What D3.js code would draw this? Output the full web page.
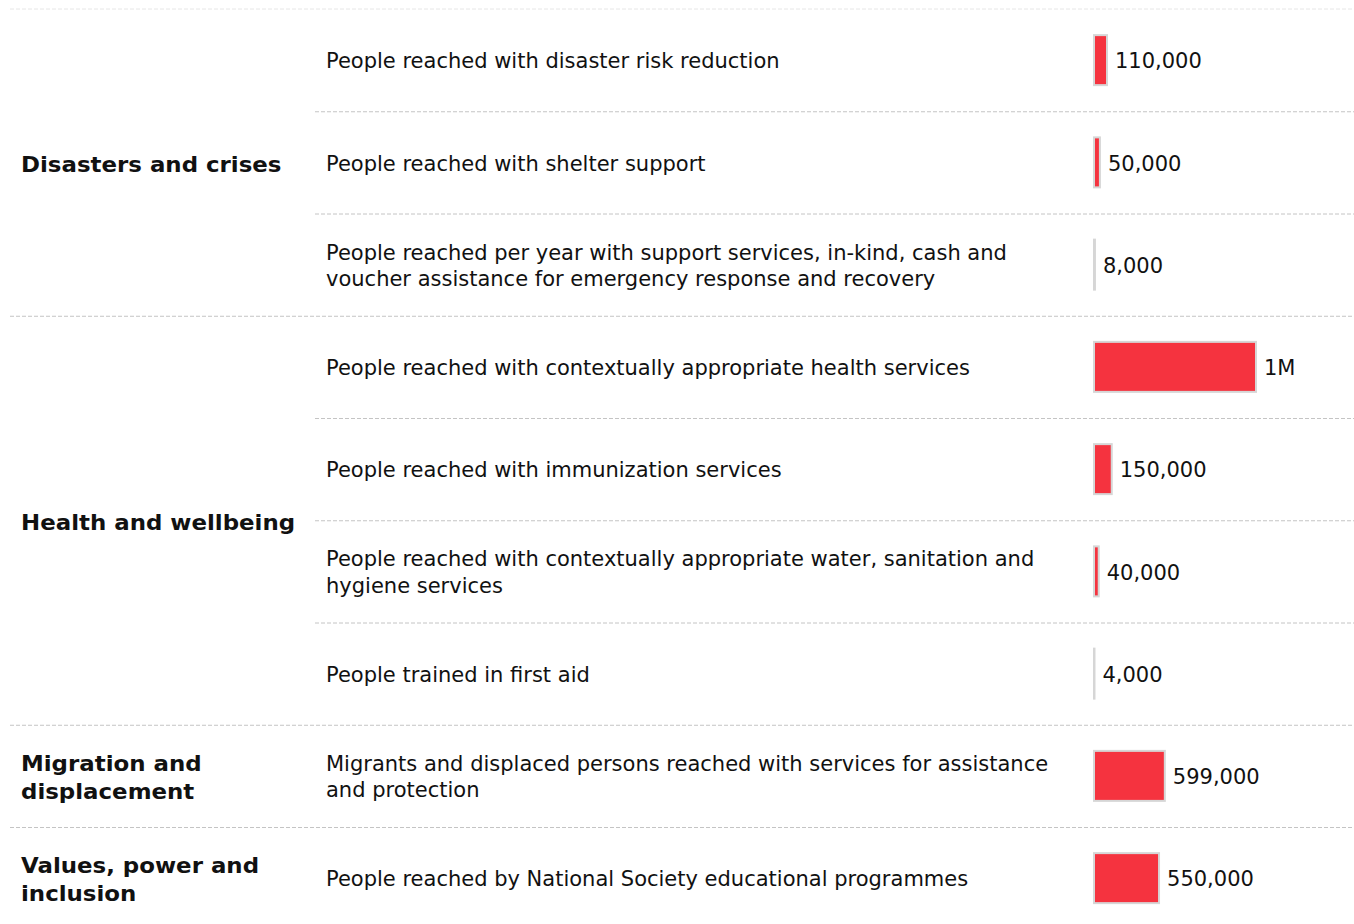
<!DOCTYPE html>
<html lang="en">
<head>
<meta charset="UTF-8">
<title>Indicators by area</title>
<script src="https://d3js.org/d3.v7.min.js"></script>
<style>
  body { margin: 0; background: #fff; }
  svg text { font-family: "DejaVu Sans", sans-serif; font-size: 21px; fill: #111; }
  .group-label { font-weight: bold; }
</style>
</head>
<body>
<div id="chart"></div>
<script>
  // data
  const groups = [
    "Disasters and crises",
    "Health and wellbeing",
    "Migration and displacement",
    "Values, power and inclusion"
  ];
  const indicators = [
    "People reached with disaster risk reduction",
    "People reached with shelter support",
    "People reached per year with support services, in-kind, cash and voucher assistance for emergency response and recovery",
    "People reached with contextually appropriate health services",
    "People reached with immunization services",
    "People reached with contextually appropriate water, sanitation and hygiene services",
    "People trained in first aid",
    "Migrants and displaced persons reached with services for assistance and protection",
    "People reached by National Society educational programmes"
  ];
  const indicatorGroup = [0, 0, 0, 1, 1, 1, 1, 2, 3];
  const values = [110000, 50000, 8000, 1370000, 150000, 40000, 4000, 599000, 550000];

  const width = 1354, height = 924;
  const rowTop = 9, rowH = 102.25;
  const groupX = 21, descX = 326, barX = 1094;

  const svg = d3.select("#chart").append("svg")
    .attr("width", width).attr("height", height);

  const y = d3.scaleBand()
    .domain(d3.range(indicators.length))
    .range([rowTop, rowTop + rowH * indicators.length])
    .padding(0);

  const x = d3.scaleLinear()
    .domain([0, d3.max(values)])
    .range([0, 162]);

  const fmt = v => v >= 1e6 ? Math.floor(v / 1e6) + "M" : d3.format(",")(v);

  // the bold face here runs a little narrower than the reference one
  const boldStretch = 1.09;

  // wrap text into tspans, then centre the block vertically on cy
  function wrap(sel, maxW, lineH, stretch) {
    sel.each(function() {
      const t = d3.select(this);
      const words = t.text().split(/\s+/);
      const cx = +t.attr("x"), cy = +t.attr("y");
      t.text(null);
      let lines = [], line = [];
      const ts = t.append("tspan").attr("x", cx);
      words.forEach(w => {
        line.push(w);
        ts.text(line.join(" "));
        if (ts.node().getComputedTextLength() * stretch > maxW && line.length > 1) {
          line.pop();
          lines.push(line.join(" "));
          line = [w];
          ts.text(w);
        }
      });
      lines.push(line.join(" "));
      t.text(null);
      const off = -(lines.length - 1) * lineH / 2;
      lines.forEach((l, i) => {
        const s = t.append("tspan")
          .attr("x", cx)
          .attr("y", cy + off + i * lineH)
          .attr("dy", "0.35em")
          .text(l);
        if (stretch !== 1) {
          s.attr("textLength", s.node().getComputedTextLength() * stretch)
           .attr("lengthAdjust", "spacingAndGlyphs");
        }
      });
    });
  }

  // top rule
  svg.append("line")
    .attr("x1", 10).attr("x2", width)
    .attr("y1", rowTop).attr("y2", rowTop)
    .attr("stroke", "#e6e6e6").attr("stroke-dasharray", "4,2");

  // row separators: full width between groups, indented inside a group
  d3.range(1, indicators.length).forEach(i => {
    const newGroup = indicatorGroup[i] !== indicatorGroup[i - 1];
    svg.append("line")
      .attr("x1", newGroup ? 10 : 315).attr("x2", width)
      .attr("y1", y(i) + 0.5).attr("y2", y(i) + 0.5)
      .attr("stroke", "#c4c4c4").attr("stroke-dasharray", "4,2");
  });

  // group labels
  svg.selectAll(".group-label")
    .data(groups)
    .join("text")
    .attr("class", "group-label")
    .attr("x", groupX)
    .attr("y", (g, gi) => {
      const rows = indicatorGroup.map((d, i) => d === gi ? i : -1).filter(i => i >= 0);
      return (y(rows[0]) + y(rows[rows.length - 1]) + y.bandwidth()) / 2 + 2;
    })
    .text(d => d)
    .call(wrap, 290, 28, boldStretch);

  // indicator descriptions
  svg.selectAll(".desc")
    .data(indicators)
    .join("text")
    .attr("class", "desc")
    .attr("x", descX)
    .attr("y", (d, i) => y(i) + y.bandwidth() / 2 + 1)
    .text(d => d)
    .call(wrap, 740, 26.5, 1);

  // bars
  const barH = 50;
  svg.selectAll(".bar")
    .data(values)
    .join("rect")
    .attr("class", "bar")
    .attr("x", barX)
    .attr("y", (d, i) => y(i) + y.bandwidth() / 2 - barH / 2)
    .attr("width", d => x(d))
    .attr("height", barH)
    .attr("fill", "#f5333f")
    .attr("stroke", "#d6d6d6")
    .attr("stroke-width", 2);

  // value labels
  svg.selectAll(".val")
    .data(values)
    .join("text")
    .attr("class", "val")
    .attr("x", d => barX + x(d) + 8)
    .attr("y", (d, i) => y(i) + y.bandwidth() / 2 + 1)
    .attr("dy", "0.35em")
    .text(fmt);
</script>
</body>
</html>
